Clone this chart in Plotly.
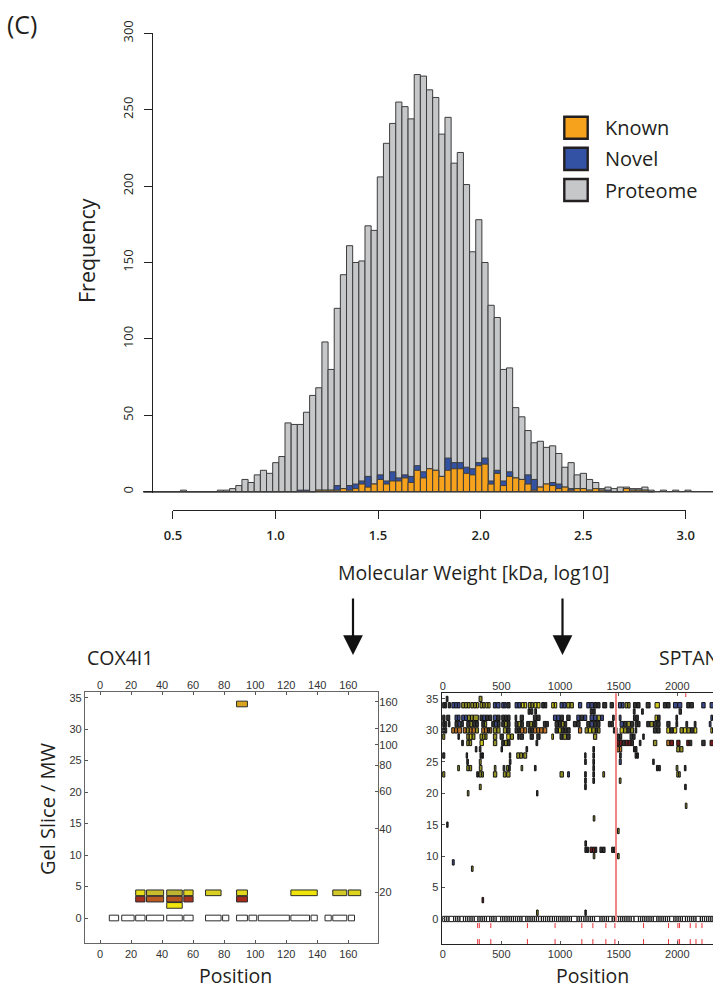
import plotly.graph_objects as go

W, H = 713, 990

# ---------------- Histogram data (bins of log10 kDa) ----------------
hist_first_left = 0.3563
hist_bin_width = 0.03
proteome_counts = [0, 0, 0, 0, 0, 0, 1, 0, 0, 0, 0, 0,
                   1, 1, 2, 4, 8, 6, 11, 14, 12, 19, 23,
                   45, 44, 44, 52, 63, 68, 98, 80, 120, 142,
                   161, 150, 151, 174, 171, 206, 228, 241, 255, 252,
                   244, 273, 272, 263, 258, 234, 245, 215, 222, 201,
                   157, 178, 150, 122, 114, 80, 81, 55, 49, 40,
                   32, 33, 29, 30, 25, 16, 19, 11, 12, 8,
                   6, 2, 3, 2, 3, 3, 2, 2, 3, 1,
                   0, 1, 0, 1, 0, 1, 0, 0, 0, 0]
# known / novel start at the same first bin as proteome
known_counts = [0] * 23 + [0, 0, 0, 0, 0, 1, 1, 1, 1, 2,
                           1, 2, 5, 3, 5, 8, 5, 7, 7, 9,
                           6, 14, 9, 15, 14, 10, 14, 15, 15, 12,
                           11, 17, 18, 5, 12, 4, 10, 9, 8, 5,
                           1, 3, 5, 4, 2, 3, 1, 2, 2, 1,
                           2, 1, 0, 0, 0, 2, 1, 1, 1, 0]
novel_counts = [0] * 23 + [0, 0, 1, 1, 0, 0, 0, 0, 3, 0,
                           3, 3, 2, 7, 0, 3, 2, 6, 2, 2,
                           4, 3, 4, 0, 0, 0, 8, 4, 4, 4,
                           4, 2, 4, 2, 2, 3, 3, 0, 0, 6,
                           7, 0, 0, 2, 3, 0, 1, 0, 0, 0,
                           0, 0, 1, 0, 0, 0, 0, 0, 0, 0]
hist_y_ticks = [0, 50, 100, 150, 200, 250, 300]
hist_x_ticks = [0.5, 1.0, 1.5, 2.0, 2.5, 3.0]
hist_x_ticktext = ["0.5", "1.0", "1.5", "2.0", "2.5", "3.0"]
legend_labels = ["Known", "Novel", "Proteome"]

# ---------------- COX4I1 peptides (start, end, colour) ----------------
cox_r34 = [(88, 95, "#d9a51f")]
cox_r4 = [(23, 29, "#e6dc1a"), (30, 41, "#c9bd2e"), (43, 53, "#bdb532"), (54, 60, "#e0d41e"),
          (68, 78, "#d8cf22"), (88, 95, "#e3d71c"), (123, 140, "#efe30a"), (150, 159, "#d3c926"),
          (160, 168, "#ddd31c")]
cox_r3 = [(23, 29, "#a3301f"), (30, 41, "#b85a22"), (43, 53, "#b4541f"), (54, 60, "#a63320"),
          (88, 95, "#a52b1c")]
cox_r2 = [(43, 53, "#f2e40d")]
cox_r0 = [(6, 12), (14, 22), (23, 29), (30, 41), (43, 53), (54, 60), (68, 78), (79, 83), (88, 95),
          (96, 101), (102, 122), (123, 135), (136, 140), (145, 149), (150, 159), (160, 164)]
cox_x_ticks = [0, 20, 40, 60, 80, 100, 120, 140, 160]
gel_ticks = [0, 5, 10, 15, 20, 25, 30, 35]
mw_ticks = [20, 40, 60, 80, 100, 120, 160]

# ---------------- SPTAN1 peptides (start, end, colour code) ----------------
sptan_r35 = [(30, 45, "K"), (310, 335, "O")]
sptan_r34 = [(0, 18, "K"), (20, 34, "K"), (48, 66, "K"), (78, 100, "B"), (102, 125, "B"), (127, 148, "B"),
             (162, 185, "O"), (187, 210, "O"), (212, 233, "O"), (240, 262, "O"), (264, 286, "O"),
             (288, 304, "Y"), (318, 340, "O"), (342, 361, "O"), (367, 385, "Y"), (387, 404, "Y"),
             (432, 455, "B"), (457, 489, "B"), (503, 522, "B"), (524, 540, "B"), (546, 574, "K"),
             (617, 640, "B"), (642, 665, "B"), (671, 693, "Y"), (695, 716, "Y"), (730, 752, "O"),
             (754, 773, "O"), (779, 803, "Y"), (805, 830, "Y"), (844, 865, "K"), (867, 887, "K"),
             (929, 950, "Y"), (952, 972, "Y"), (1000, 1025, "B"), (1027, 1052, "B"), (1057, 1085, "O"),
             (1087, 1114, "O"), (1157, 1185, "B"), (1228, 1255, "B"), (1257, 1285, "B"),
             (1290, 1315, "K"), (1317, 1341, "K"), (1364, 1398, "K"), (1427, 1455, "K"),
             (1498, 1522, "B"), (1524, 1546, "B"), (1555, 1576, "O"), (1578, 1597, "O"),
             (1626, 1652, "K"), (1655, 1682, "K"), (1734, 1768, "K"), (1810, 1847, "Y"),
             (1881, 1908, "K"), (1910, 1938, "K"), (1967, 2000, "B"), (2003, 2038, "B"),
             (2080, 2107, "K"), (2110, 2137, "K"), (2208, 2237, "B"), (2279, 2308, "B")]
sptan_r33 = [(728, 745, "K"), (750, 768, "K"), (785, 800, "K"), (1258, 1275, "K"), (1280, 1300, "K"),
             (1625, 1640, "K"), (1695, 1710, "K"), (2015, 2035, "K")]
sptan_r32 = [(0, 20, "K"), (34, 60, "K"), (105, 125, "B"), (127, 148, "B"), (162, 185, "B"), (187, 210, "B"),
             (212, 235, "O"), (237, 260, "O"), (262, 304, "O"), (318, 340, "K"), (342, 365, "B"),
             (367, 390, "K"), (392, 418, "K"), (432, 460, "B"), (462, 489, "K"), (503, 525, "K"),
             (527, 550, "K"), (552, 574, "K"), (617, 631, "K"), (660, 688, "K"), (773, 800, "K"),
             (802, 830, "K"), (944, 970, "B"), (972, 1000, "B"), (1002, 1029, "K"), (1057, 1086, "K"),
             (1143, 1170, "B"), (1172, 1200, "K"), (1202, 1228, "B"), (1256, 1285, "B"), (1287, 1315, "B"),
             (1317, 1345, "O"), (1347, 1370, "B"), (1448, 1462, "K"), (1505, 1520, "B"), (1626, 1645, "K"),
             (1648, 1668, "K"), (1810, 1830, "Y"), (1832, 1853, "K"), (1988, 2002, "K"), (2286, 2300, "B")]
sptan_r31 = [(0, 15, "K"), (18, 34, "K"), (48, 62, "K"), (105, 130, "K"), (132, 155, "B"), (157, 176, "K"),
             (205, 230, "K"), (232, 255, "O"), (257, 280, "K"), (282, 304, "K"), (333, 355, "K"),
             (357, 375, "O"), (418, 440, "K"), (442, 465, "B"), (467, 489, "K"), (503, 525, "K"),
             (527, 550, "O"), (552, 574, "K"), (617, 640, "K"), (642, 665, "O"), (667, 688, "K"),
             (716, 740, "K"), (742, 765, "O"), (767, 785, "K"), (787, 802, "K"), (858, 880, "K"),
             (882, 901, "K"), (958, 985, "K"), (987, 1010, "K"), (1012, 1035, "O"), (1037, 1057, "K"),
             (1114, 1140, "K"), (1143, 1171, "K"), (1228, 1255, "K"), (1257, 1285, "B"), (1287, 1315, "K"),
             (1317, 1341, "K"), (1412, 1432, "K"), (1435, 1455, "K"), (1512, 1540, "B"), (1542, 1570, "K"),
             (1572, 1600, "O"), (1602, 1626, "K"), (1640, 1660, "K"), (1662, 1682, "K"), (1739, 1765, "K"),
             (1767, 1795, "O"), (1797, 1825, "K"), (1827, 1853, "K"), (1910, 1938, "K"), (1988, 2003, "K"),
             (2073, 2088, "K"), (2144, 2159, "K"), (2272, 2287, "B")]
sptan_r30 = [(0, 15, "K"), (18, 34, "K"), (77, 100, "R"), (102, 125, "R"), (127, 162, "R"), (176, 200, "R"),
             (202, 225, "O"), (227, 250, "R"), (252, 278, "R"), (280, 304, "O"), (333, 355, "R"),
             (357, 380, "R"), (382, 400, "K"), (402, 418, "R"), (432, 460, "O"), (462, 489, "O"),
             (517, 545, "O"), (547, 574, "K"), (617, 640, "K"), (642, 660, "K"), (662, 690, "R"),
             (692, 716, "R"), (730, 752, "K"), (754, 773, "K"), (775, 800, "R"), (802, 825, "R"),
             (827, 855, "R"), (857, 887, "R"), (958, 985, "K"), (987, 1010, "Y"), (1012, 1035, "K"),
             (1037, 1060, "K"), (1062, 1086, "K"), (1157, 1185, "R"), (1214, 1240, "O"), (1242, 1270, "Y"),
             (1272, 1300, "O"), (1302, 1320, "K"), (1322, 1341, "O"), (1455, 1470, "K"), (1472, 1486, "K"),
             (1512, 1540, "Y"), (1542, 1570, "O"), (1572, 1600, "K"), (1602, 1626, "O"), (1640, 1654, "K"),
             (1796, 1825, "K"), (1827, 1853, "K"), (1910, 1935, "Y"), (1937, 1965, "K"), (1967, 1995, "Y"),
             (2023, 2050, "O"), (2052, 2080, "Y"), (2082, 2110, "O"), (2112, 2140, "K"), (2142, 2166, "Y"),
             (2286, 2300, "Y")]
sptan_r29 = [(0, 18, "O"), (130, 142, "K"), (205, 225, "O"), (227, 250, "Y"), (252, 275, "O"), (318, 340, "O"),
             (342, 360, "Y"), (362, 378, "O"), (432, 461, "O"), (489, 517, "K"), (546, 575, "Y"),
             (577, 603, "O"), (640, 652, "K"), (660, 688, "K"), (745, 773, "K"), (802, 830, "K"),
             (930, 944, "Y"), (1000, 1025, "K"), (1027, 1055, "O"), (1057, 1086, "K"), (1285, 1313, "O"),
             (1484, 1505, "K"), (1507, 1526, "K"), (1597, 1618, "K"), (1620, 1640, "K"), (1705, 1718, "K")]
sptan_r28 = [(162, 176, "K"), (205, 225, "O"), (227, 247, "O"), (318, 347, "Y"), (432, 461, "O"),
             (503, 525, "K"), (527, 550, "O"), (552, 574, "K"), (795, 810, "K"), (1484, 1505, "D"),
             (1507, 1530, "D"), (1532, 1555, "K"), (1557, 1580, "D"), (1582, 1605, "D"), (1607, 1626, "K"),
             (1676, 1690, "K"), (1796, 1825, "O"), (1910, 1935, "R"), (1937, 1967, "D"), (1995, 2023, "D"),
             (2080, 2100, "D"), (2102, 2123, "K"), (2208, 2237, "K"), (2279, 2308, "D")]
sptan_r27 = [(278, 292, "K"), (312, 326, "K"), (497, 510, "K"), (710, 724, "K"), (1280, 1294, "K"),
             (1484, 1505, "R"), (1507, 1526, "R"), (1626, 1640, "K"), (1642, 1656, "K"), (1995, 2020, "O"),
             (2022, 2048, "O")]
sptan_r26 = [(0, 18, "K"), (200, 212, "K"), (318, 332, "K"), (335, 347, "K"), (568, 580, "K"), (631, 655, "O"),
             (657, 680, "O"), (690, 716, "O"), (1210, 1222, "K"), (1280, 1294, "K"), (1508, 1522, "K"),
             (1640, 1652, "K"), (1655, 1668, "K")]
sptan_r25 = [(205, 219, "K"), (312, 328, "O"), (568, 582, "K"), (1210, 1224, "K"), (1280, 1294, "K"),
             (1505, 1522, "B"), (1790, 1803, "K")]
sptan_r24 = [(128, 142, "O"), (205, 225, "O"), (227, 247, "O"), (312, 335, "O"), (440, 454, "O"),
             (515, 530, "K"), (545, 560, "O"), (562, 576, "K"), (668, 682, "O"), (782, 796, "K"),
             (1280, 1294, "K"), (1822, 1836, "K"), (1840, 1855, "K"), (1990, 2005, "O"), (2060, 2074, "K")]
sptan_r23 = [(0, 18, "O"), (290, 305, "K"), (310, 330, "O"), (333, 347, "O"), (432, 461, "O"), (517, 540, "O"),
             (545, 574, "O"), (1000, 1029, "O"), (1065, 1080, "B"), (1210, 1224, "K"), (1280, 1294, "K"),
             (1365, 1380, "O"), (1995, 2010, "O"), (2012, 2025, "O")]
sptan_r22 = [(1210, 1224, "K"), (1280, 1294, "K"), (1505, 1520, "O")]
sptan_r21 = [(312, 328, "O"), (1210, 1224, "K"), (2062, 2076, "K")]
sptan_r20 = [(210, 224, "O"), (800, 812, "K")]
sptan_r18 = [(2068, 2082, "O")]
sptan_r16 = [(1283, 1297, "O")]
sptan_r15 = [(34, 46, "K")]
sptan_r14 = [(1490, 1504, "O")]
sptan_r12 = [(1212, 1226, "K")]
sptan_r11 = [(1212, 1226, "K"), (1230, 1244, "K"), (1256, 1275, "D"), (1277, 1296, "D"), (1298, 1313, "K"),
             (1340, 1360, "K"), (1362, 1384, "K"), (1440, 1457, "K"), (1459, 1476, "K")]
sptan_r10 = [(1283, 1297, "O"), (1490, 1504, "O")]
sptan_r9 = [(82, 98, "B")]
sptan_r8 = [(245, 259, "O")]
sptan_r3 = [(335, 349, "D")]
sptan_r1 = [(800, 814, "O"), (1212, 1224, "K")]
sptan_r0 = [(0, 16), (18, 34), (36, 52), (55, 92), (94, 110), (112, 128), (130, 146), (148, 176), (178, 195),
            (197, 213), (215, 232), (234, 250), (252, 268), (270, 300), (302, 318), (320, 336), (338, 354),
            (356, 372), (374, 400), (402, 418), (420, 436), (438, 455), (457, 493), (495, 511), (513, 529),
            (531, 548), (550, 566), (568, 584), (586, 602), (604, 620), (622, 638), (640, 657), (659, 675),
            (677, 708), (710, 726), (728, 744), (746, 762), (764, 780), (782, 798), (800, 816), (818, 840),
            (842, 858), (860, 876), (878, 894), (896, 912), (914, 934), (936, 952), (954, 970), (972, 988),
            (990, 1006), (1008, 1024), (1026, 1042), (1044, 1060), (1062, 1078), (1080, 1096), (1098, 1145),
            (1147, 1163), (1165, 1181), (1183, 1203), (1205, 1221), (1223, 1239), (1241, 1257), (1259, 1275),
            (1277, 1293), (1295, 1340), (1342, 1358), (1360, 1376), (1378, 1394), (1396, 1412), (1414, 1444),
            (1446, 1462), (1464, 1480), (1482, 1498), (1500, 1516), (1518, 1534), (1536, 1552), (1554, 1570),
            (1572, 1588), (1590, 1606), (1608, 1630), (1632, 1668), (1670, 1686), (1688, 1704), (1706, 1722),
            (1724, 1740), (1742, 1758), (1760, 1776), (1778, 1794), (1796, 1825), (1827, 1843), (1845, 1861),
            (1863, 1879), (1881, 1897), (1899, 1915), (1917, 1933), (1935, 1970), (1972, 1988), (1990, 2006),
            (2008, 2024), (2026, 2042), (2044, 2068), (2070, 2086), (2088, 2104), (2106, 2122), (2124, 2140),
            (2142, 2158), (2160, 2195), (2197, 2213), (2215, 2231), (2233, 2249), (2251, 2267), (2269, 2285),
            (2287, 2303), (2305, 2321)]
sptan_rows = [(35, sptan_r35), (34, sptan_r34), (33, sptan_r33), (32, sptan_r32), (31, sptan_r31),
              (30, sptan_r30), (29, sptan_r29), (28, sptan_r28), (27, sptan_r27), (26, sptan_r26),
              (25, sptan_r25), (24, sptan_r24), (23, sptan_r23), (22, sptan_r22), (21, sptan_r21),
              (20, sptan_r20), (18, sptan_r18), (16, sptan_r16), (15, sptan_r15), (14, sptan_r14),
              (12, sptan_r12), (11, sptan_r11), (10, sptan_r10), (9, sptan_r9), (8, sptan_r8),
              (3, sptan_r3), (1, sptan_r1)]
sptan_cleavage = [298, 312, 410, 722, 958, 1186, 1280, 1391, 1468, 1712, 1925, 2005, 2019, 2110, 2159, 2210]
sptan_marker_pos = 1477
sptan_top_mark = 2072
sptan_x_ticks = [0, 500, 1000, 1500, 2000]

code_colors = {"K": "#333333", "B": "#3d4b8c", "O": "#959326", "Y": "#cfc71c", "R": "#bd7428", "D": "#761a1a"}

# ---------------- helpers for pixel placement ----------------
def fx(px):
    return px / W

def fy(py):
    return 1 - py / H

TXT = "#231f20"
SANS = "Open Sans"
TICKF = dict(family="Liberation Sans", size=11, color="#333333")

fig = go.Figure()

# ---- histogram ----
centers = [hist_first_left + (i + 0.5) * hist_bin_width for i in range(len(proteome_counts))]
total_found = [k + n for k, n in zip(known_counts, novel_counts)]
last_edge = hist_first_left + len(proteome_counts) * hist_bin_width
fig.add_trace(go.Scatter(x=[hist_first_left, last_edge], y=[0, 0], mode="lines",
                         line=dict(color="#3c3c3c", width=1.2), xaxis="x", yaxis="y", hoverinfo="skip"))
fig.add_trace(go.Bar(x=centers, y=proteome_counts, width=hist_bin_width, name="Proteome",
                     marker=dict(color="#c6c7c9", line=dict(color="#3c3c3c", width=1)), xaxis="x", yaxis="y"))
fig.add_trace(go.Bar(x=centers, y=total_found, width=hist_bin_width, name="Novel",
                     marker=dict(color="#3452a4", line=dict(color="#3c3c3c", width=1)), xaxis="x", yaxis="y"))
fig.add_trace(go.Bar(x=centers, y=known_counts, width=hist_bin_width, name="Known",
                     marker=dict(color="#f7a21c", line=dict(color="#3c3c3c", width=1)), xaxis="x", yaxis="y"))
fig.add_trace(go.Scatter(x=[hist_x_ticks[0], hist_x_ticks[-1]], y=[None, None], mode="markers",
                         xaxis="x2", yaxis="y", hoverinfo="skip"))

# ---- COX4I1 ----
cs, cl, cy, cc = [], [], [], []
for a, b in cox_r0:
    cs.append(a); cl.append(b - a); cy.append(0); cc.append("#ffffff")
for row, lst in [(2, cox_r2), (3, cox_r3), (4, cox_r4), (34, cox_r34)]:
    for a, b, col in lst:
        cs.append(a); cl.append(b - a); cy.append(row); cc.append(col)
fig.add_trace(go.Bar(orientation="h", y=cy, x=cl, base=cs, width=0.9,
                     marker=dict(color=cc, line=dict(color="#2b2b2b", width=1)), xaxis="x3", yaxis="y3"))
fig.add_trace(go.Scatter(x=[None], y=[None], mode="markers", xaxis="x4", yaxis="y4", hoverinfo="skip"))

# ---- SPTAN1 ----
ss, sl, sy, sc = [], [], [], []
for a, b in sptan_r0:
    ss.append(a); sl.append(b - a); sy.append(0); sc.append("#ffffff")
for row, lst in sptan_rows:
    for a, b, code in lst:
        ss.append(a); sl.append(b - a); sy.append(row); sc.append(code_colors[code])
fig.add_trace(go.Bar(orientation="h", y=sy, x=sl, base=ss, width=0.85,
                     marker=dict(color=sc, line=dict(color="#141414", width=1)), xaxis="x5", yaxis="y5"))
fig.add_trace(go.Scatter(x=[sptan_marker_pos, sptan_marker_pos], y=[-0.4, 36], mode="lines",
                         line=dict(color="#f08585", width=2), xaxis="x5", yaxis="y5", hoverinfo="skip"))
tx, ty = [], []
for p in sptan_cleavage:
    tx += [p, p, None, p, p, None]
    ty += [-0.65, -1.45, None, -3.2, -4.0, None]
tx += [sptan_top_mark, sptan_top_mark]
ty += [35.3, 36]
fig.add_trace(go.Scatter(x=tx, y=ty, mode="lines", line=dict(color="#e8333a", width=1),
                         xaxis="x5", yaxis="y5", hoverinfo="skip"))
fig.add_trace(go.Scatter(x=[None], y=[None], mode="markers", xaxis="x6", yaxis="y5", hoverinfo="skip"))

# ---------------- layout ----------------
def hx(v):
    return 275.5 + (v - 1.0) * 205.1

axis_common = dict(showgrid=False, zeroline=False, automargin=False)
layout = dict(
    template="none",
    width=W, height=H, margin=dict(l=0, r=0, t=0, b=0, pad=0, autoexpand=False),
    paper_bgcolor="white", plot_bgcolor="rgba(0,0,0,0)", showlegend=False, barmode="overlay",
    xaxis=dict(domain=[0, 1], range=[(0 - 275.5) / 205.1 + 1.0, (W - 275.5) / 205.1 + 1.0],
               visible=False, anchor="y", **axis_common),
    yaxis=dict(domain=[fy(492.9), fy(33.3)], range=[-0.8, 300], anchor="free", position=fx(152),
               tickvals=hist_y_ticks, ticks="outside", ticklen=8, tickwidth=1.2, tickcolor="#222",
               showline=True, linecolor="#222", linewidth=1.2, tickangle=-90, ticklabelstandoff=6,
               tickfont=dict(family=SANS, size=13, color=TXT), **axis_common),
    xaxis2=dict(domain=[fx(hx(0.4995)), fx(hx(3.0005))], range=[0.4995, 3.0005], anchor="free",
                position=fy(510), tickvals=hist_x_ticks, ticktext=hist_x_ticktext, ticks="outside",
                ticklen=8, tickwidth=1.2, tickcolor="#222", showline=True, linecolor="#222", linewidth=1.2,
                ticklabelstandoff=5,
                tickfont=dict(family=SANS, size=13, color=TXT, weight=600), **axis_common),
    xaxis3=dict(domain=[fx(85), fx(378.3)], range=[-9.665, 179.33], anchor="y3", tickvals=cox_x_ticks,
                ticks="inside", ticklen=3, tickcolor="#555", mirror="ticks", showline=True,
                linecolor="#666", linewidth=1.3, tickfont=TICKF, **axis_common),
    yaxis3=dict(domain=[fy(943.3), fy(691.7)], range=[-4.02, 35.95], anchor="x3", tickvals=gel_ticks,
                ticks="inside", ticklen=3, tickcolor="#555", mirror=True, showline=True,
                linecolor="#666", linewidth=1.3, tickfont=TICKF, **axis_common),
    xaxis4=dict(overlaying="x3", side="top", anchor="y3", range=[-9.665, 179.33], tickvals=cox_x_ticks,
                ticks="", showline=False, tickfont=TICKF, **axis_common),
    yaxis4=dict(overlaying="y3", side="right", anchor="x3", type="log", range=[1.0594, 2.2515],
                tickvals=mw_ticks, ticktext=[str(v) for v in mw_ticks], ticks="inside", ticklen=3,
                tickcolor="#555", showline=False, tickfont=TICKF, **axis_common),
    xaxis5=dict(domain=[fx(441.7), 1.0], range=[-8.5, 2304], anchor="y5", tickvals=sptan_x_ticks,
                ticks="inside", ticklen=3, tickcolor="#555", mirror="ticks", showline=True,
                linecolor="#222", linewidth=1.3, tickfont=TICKF, **axis_common),
    yaxis5=dict(domain=[fy(944), fy(693.3)], range=[-3.98, 35.9], anchor="x5", tickvals=gel_ticks,
                ticks="inside", ticklen=3, tickcolor="#555", showline=True, linecolor="#222",
                linewidth=1.3, tickfont=TICKF, **axis_common),
    xaxis6=dict(overlaying="x5", side="top", anchor="y5", range=[-8.5, 2304], tickvals=sptan_x_ticks,
                ticks="", showline=False, tickfont=TICKF, **axis_common),
)
fig.update_layout(**layout)

ann = []
def text(t, x, y, size, xanchor="center", angle=0, weight=400, yanchor="middle"):
    ann.append(dict(text=t, x=fx(x), y=fy(y), xref="paper", yref="paper", showarrow=False,
                    xanchor=xanchor, yanchor=yanchor, textangle=angle, borderpad=0,
                    font=dict(family=SANS, size=size, color=TXT, weight=weight)))

text("(C)", 6, 24, 25, xanchor="left")
text("Frequency", 87, 251, 21.5, angle=-90)
text("Molecular Weight [kDa, log10]", 473.5, 572, 19.5)
text(legend_labels[0], 604, 127.7, 20, xanchor="left")
text(legend_labels[1], 604, 158.8, 20, xanchor="left")
text(legend_labels[2], 604, 190, 20, xanchor="left")
text("COX4I1", 86, 657, 19.5, xanchor="left")
text("SPTAN1", 658, 657, 19.5, xanchor="left")
text("Gel Slice / MW", 47, 809, 20, angle=-90)
text("Position", 235.5, 990, 19.5, yanchor="bottom")
text("Position", 592, 990, 19.5, yanchor="bottom")
for ax_x in (353, 562.5):
    ann.append(dict(text="", x=fx(ax_x), y=fy(655), xref="paper", yref="paper", showarrow=True,
                    ax=0, ay=-58, arrowhead=2, arrowsize=1.8, arrowwidth=2.2, arrowcolor="#111"))
fig.update_layout(annotations=ann)

shapes = []
for (y0, y1), col in zip([(116.7, 138.7), (147.7, 170), (179, 201)], ["#f7a21c", "#3452a4", "#c6c7c9"]):
    shapes.append(dict(type="rect", xref="paper", yref="paper", x0=fx(564.3), x1=fx(587.7),
                       y0=fy(y1), y1=fy(y0), fillcolor=col, line=dict(color="#231f20", width=2.4)))
fig.update_layout(shapes=shapes)

fig.write_html("out.html")
